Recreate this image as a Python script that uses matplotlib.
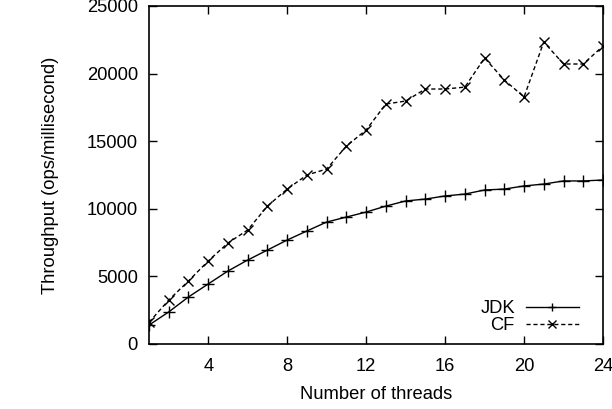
import matplotlib
matplotlib.use("Agg")
import matplotlib.pyplot as plt

plt.rcParams['font.family'] = ['Liberation Sans', 'DejaVu Sans']

threads = list(range(1, 25))
jdk = [1400, 2370, 3480, 4440, 5400, 6210, 6950, 7690, 8360, 9020, 9390, 9760,
       10200, 10580, 10720, 10950, 11090, 11390, 11460, 11690, 11830, 12060, 12060, 12130]
cf = [1600, 3250, 4660, 6140, 7470, 8430, 10200, 11460, 12500, 12940, 14640, 15830,
      17750, 17970, 18860, 18860, 19000, 21150, 19530, 18270, 22340, 20710, 20710, 22040]
xticks = [4, 8, 12, 16, 20, 24]
yticks = [0, 5000, 10000, 15000, 20000, 25000]

FS = 13.2

fig = plt.figure(figsize=(6.12, 4.09), dpi=100)
ax = fig.add_axes([149/612, 1-344/409, (603-149)/612, (344-6)/409])

ax.plot(threads, jdk, color='black', lw=1.0, marker='+', ms=8, mew=1.0, label='JDK')
ax.plot(threads, cf, color='black', lw=1.0, ls=(0, (3, 2)), marker='x', ms=6.5, mew=1.0, label='CF')

ax.set_xlim(1, 24)
ax.set_ylim(0, 25000)
ax.set_xticks(xticks)
ax.set_yticks(yticks)
ax.set_xticklabels([str(t) for t in xticks])
ax.set_yticklabels([str(t) for t in yticks])
ax.tick_params(direction='in', top=True, right=True, length=6, width=1.0,
               labelsize=FS, pad=8, colors='black')
ax.tick_params(axis='x', pad=10)
for s in ax.spines.values():
    s.set_linewidth(1.2)

ax.set_xlabel('Number of threads', fontsize=FS, labelpad=8)
ax.set_ylabel('Throughput (ops/millisecond)', fontsize=FS, labelpad=20)

leg = ax.legend(loc='lower right', bbox_to_anchor=((579-149)/454, (344-334)/338),
                markerfirst=False, frameon=False, fontsize=FS,
                handlelength=2.9, handletextpad=0.6, labelspacing=0.0,
                borderaxespad=0, borderpad=0)
for h in leg.legend_handles:
    h.set_markersize(6)

fig.savefig('out.png', dpi=100)
